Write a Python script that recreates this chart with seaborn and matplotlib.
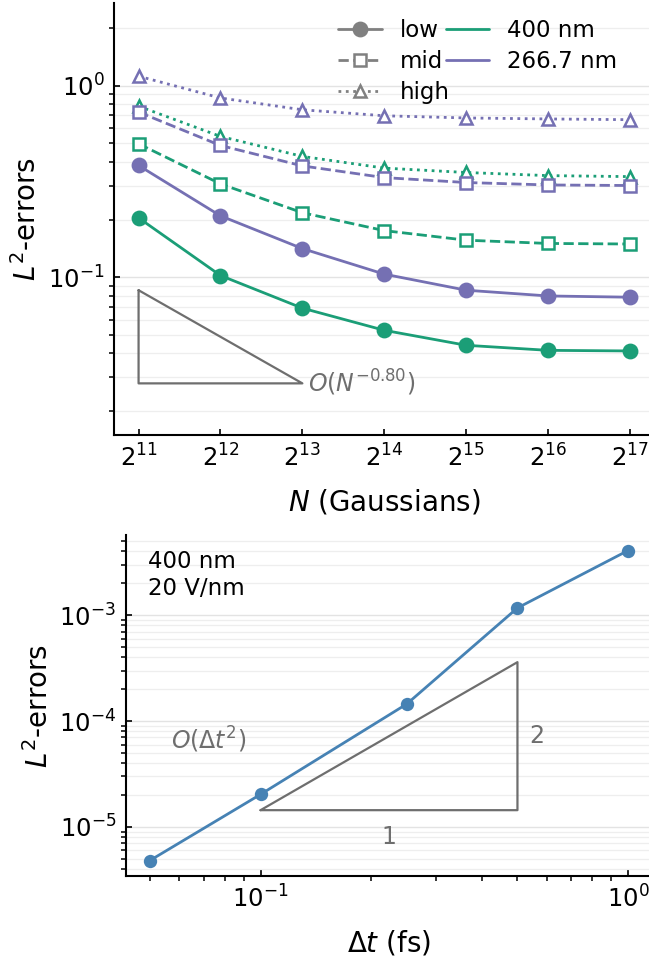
import numpy as np
import pandas as pd
import matplotlib
matplotlib.use("Agg")
import matplotlib.pyplot as plt
import seaborn as sns
from matplotlib.lines import Line2D

# ---------------- data ----------------
N_exp = [11, 12, 13, 14, 15, 16, 17]
N_vals = [2 ** e for e in N_exp]

err_400_low = [0.204, 0.102, 0.0689, 0.0528, 0.0441, 0.0415, 0.0412]
err_400_mid = [0.497, 0.307, 0.217, 0.175, 0.156, 0.150, 0.149]
err_400_high = [0.781, 0.543, 0.427, 0.371, 0.352, 0.339, 0.335]
err_266_low = [0.383, 0.209, 0.141, 0.1037, 0.0855, 0.0798, 0.0786]
err_266_mid = [0.728, 0.487, 0.381, 0.331, 0.312, 0.303, 0.301]
err_266_high = [1.12, 0.862, 0.748, 0.696, 0.678, 0.670, 0.664]

wavelengths = ["400 nm", "266.7 nm"]
levels = ["low", "mid", "high"]

dt_vals = [0.05, 0.1, 0.25, 0.5, 1.0]
dt_err = [4.82e-6, 2.03e-5, 1.45e-4, 1.17e-3, 4.08e-3]

# ---------------- styling ----------------
sns.set_theme(style="ticks")
FS_LABEL = 20
FS_TICK = 17.5
FS_LEG = 16.5
FS_ANN = 17
plt.rcParams.update({
    "font.family": ["DejaVu Sans"],
    "font.size": FS_LABEL,
    "axes.labelsize": FS_LABEL,
    "xtick.labelsize": FS_TICK,
    "ytick.labelsize": FS_TICK,
    "legend.fontsize": FS_LEG,
    "axes.linewidth": 1.5,
    "axes.edgecolor": "black",
    "xtick.color": "black",
    "ytick.color": "black",
    "text.color": "black",
    "axes.labelcolor": "black",
    "mathtext.fontset": "dejavusans",
})

colors = {"400 nm": "#1b9e77", "266.7 nm": "#7570b3"}
marker_map = {"low": "o", "mid": "s", "high": "^"}
msize_map = {"low": 9.6, "mid": 8.7, "high": 8.7}
ls_map = {"low": "-", "mid": "--", "high": ":"}
GRAY = "#6e6e6e"
LEG_GRAY = "#808080"

series = {
    ("400 nm", "low"): err_400_low,
    ("400 nm", "mid"): err_400_mid,
    ("400 nm", "high"): err_400_high,
    ("266.7 nm", "low"): err_266_low,
    ("266.7 nm", "mid"): err_266_mid,
    ("266.7 nm", "high"): err_266_high,
}
rows = []
for (wl, lv), vals in series.items():
    for n, v in zip(N_vals, vals):
        rows.append({"N": n, "err": v, "wl": wl, "level": lv})
df = pd.DataFrame(rows)
df_dt = pd.DataFrame({"dt": dt_vals, "err": dt_err})

W, H = 649, 965
fig = plt.figure(figsize=(W / 100, H / 100), dpi=100)
ax1 = fig.add_axes([114 / W, (H - 435) / H, (654.6 - 114) / W, (435 - 3) / H])
ax2 = fig.add_axes([126 / W, (H - 876) / H, (652 - 126) / W, (876 - 535) / H])

def style_axes(ax):
    sns.despine(ax=ax)
    ax.grid(True, which="major", axis="y", color="#e3e3e3", lw=1.0, zorder=0)
    ax.grid(True, which="minor", axis="y", color="#eeeeee", lw=0.9, zorder=0)
    ax.set_axisbelow(True)
    ax.tick_params(which="major", direction="in", length=4, width=1.2, pad=7)
    ax.tick_params(which="minor", direction="out", length=3.6, width=1.1)

# ---------------- top panel ----------------
ax1.set_xscale("log", base=2)
ax1.set_yscale("log")
for (wl, lv), sub in df.groupby(["wl", "level"], sort=False):
    c = colors[wl]
    mfc = c if lv == "low" else "white"
    sns.lineplot(data=sub, x="N", y="err", ax=ax1, color=c, lw=2.0,
                 linestyle=ls_map[lv], marker=marker_map[lv], markersize=msize_map[lv],
                 markerfacecolor=mfc, markeredgecolor=c, markeredgewidth=1.8,
                 legend=False, zorder=3)
ax1.set_ylim(0.015, 2.7)
ax1.set_xticks(N_vals)
ax1.xaxis.set_minor_locator(matplotlib.ticker.NullLocator())
ax1.set_xlabel("$N$ (Gaussians)", labelpad=11)
ax1.set_ylabel("$L^2$-errors")
style_axes(ax1)

# slope triangle
tx = [2 ** 11, 2 ** 11, 2 ** 13, 2 ** 11]
ty = [0.0855, 0.0279, 0.0279, 0.0855]
ax1.plot(tx, ty, color=GRAY, lw=1.6, zorder=2)
ax1.annotate("$O(N^{-0.80})$", xy=(2 ** 13, 0.0279), xytext=(4, 0),
             textcoords="offset points", ha="left", va="center", color=GRAY, fontsize=FS_ANN)

handles = []
for lv in levels:
    mfc = LEG_GRAY if lv == "low" else "white"
    handles.append(Line2D([], [], color=LEG_GRAY, lw=2.0, linestyle=ls_map[lv],
                          marker=marker_map[lv], markersize=msize_map[lv],
                          markerfacecolor=mfc, markeredgecolor=LEG_GRAY, markeredgewidth=1.8,
                          label=lv))
for wl in wavelengths:
    handles.append(Line2D([], [], color=colors[wl], lw=2.0, label=wl))
ax1.legend(handles=handles, ncol=2, loc="upper left", bbox_to_anchor=(0.398, 0.985),
           frameon=False, columnspacing=-0.2, handlelength=1.9, handletextpad=0.8,
           labelspacing=0.35, borderaxespad=0.0)

# ---------------- bottom panel ----------------
ax2.set_xscale("log")
ax2.set_yscale("log")
sns.lineplot(data=df_dt, x="dt", y="err", ax=ax2, color="#4682b4", lw=2.0,
             marker="o", markersize=9.6, markeredgewidth=0, legend=False, zorder=3)
ax2.set_xlabel("$\\Delta t$ (fs)", labelpad=11)
ax2.set_ylabel("$L^2$-errors")
style_axes(ax2)

bx = [0.1, 0.5, 0.5, 0.1]
by = [1.44e-5, 1.44e-5, 3.6e-4, 1.44e-5]
ax2.plot(bx, by, color=GRAY, lw=1.6, zorder=2)
ax2.text(np.sqrt(0.1 * 0.5), 1.44e-5 * 0.72, "1", color=GRAY, ha="center", va="top", fontsize=FS_ANN)
ax2.text(0.5 * 1.08, np.sqrt(1.44e-5 * 3.6e-4), "2", color=GRAY, ha="left", va="center", fontsize=FS_ANN)
ax2.text(0.057, 6.6e-5, "$O(\\Delta t^2)$", color=GRAY, ha="left", va="center", fontsize=FS_ANN)
ax2.text(0.042, 0.955, "400 nm\n20 V/nm", transform=ax2.transAxes, ha="left", va="top",
         fontsize=16.5, linespacing=1.2)

fig.align_ylabels([ax1, ax2])
fig.savefig("out.png", dpi=100)
